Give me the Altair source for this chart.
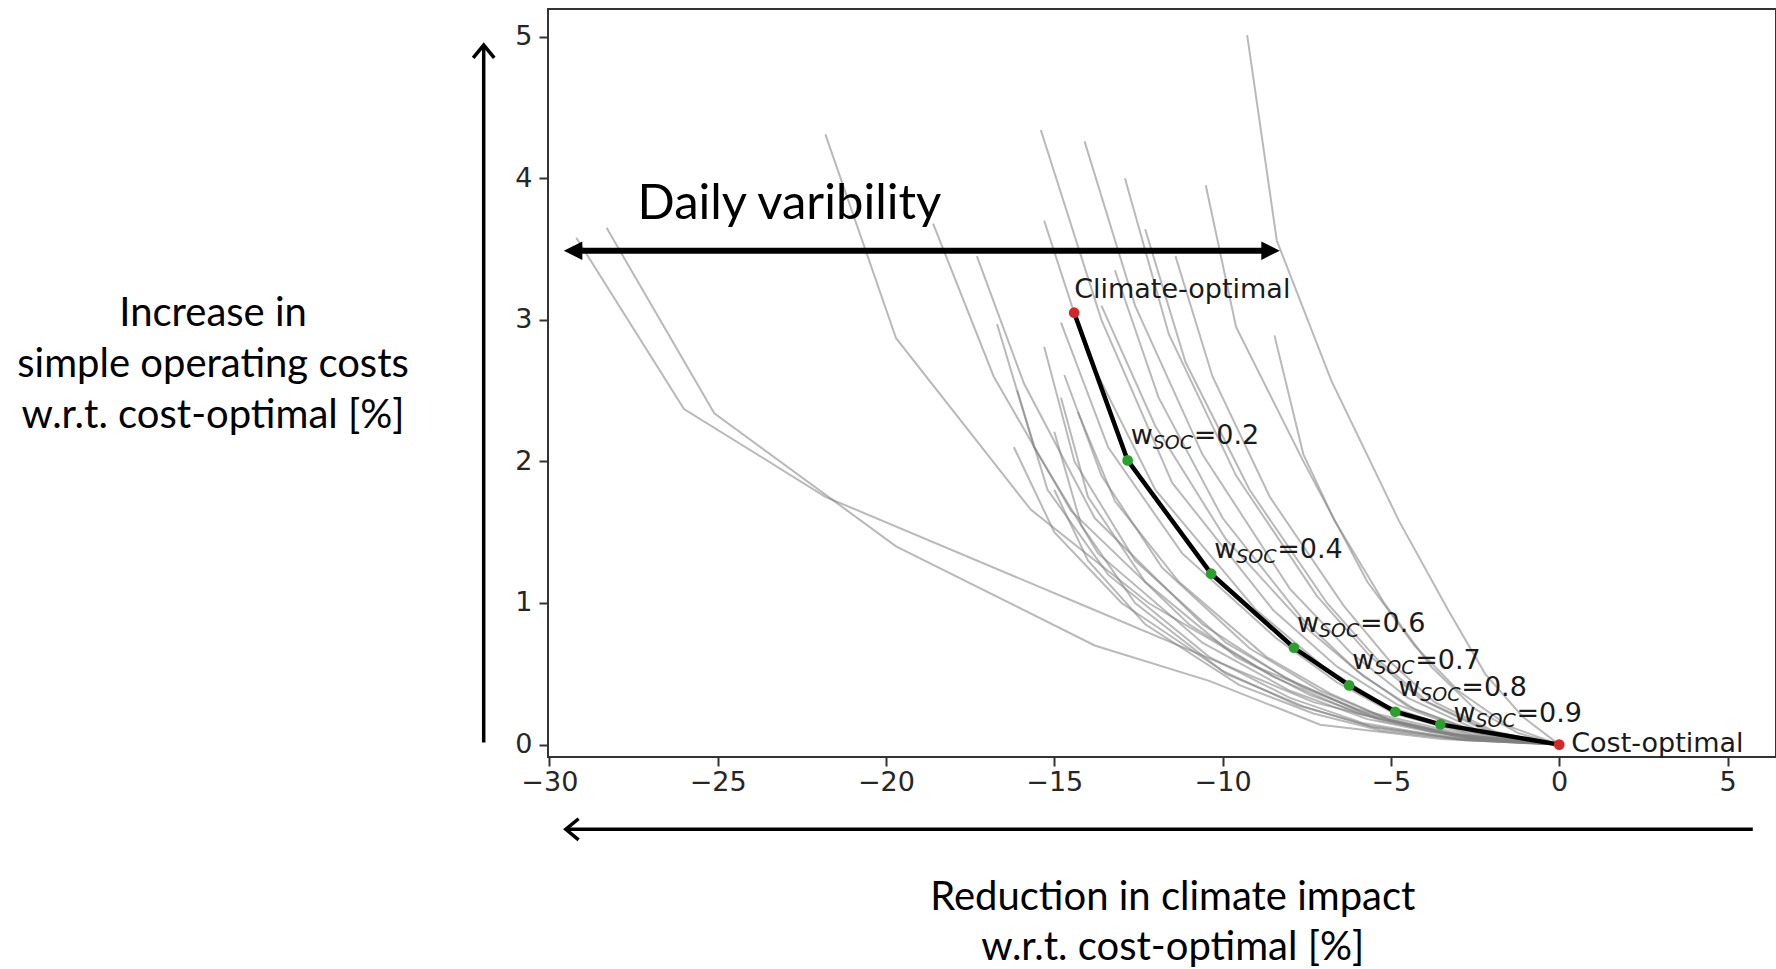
import altair as alt
import pandas as pd

# ---- grey daily Pareto fronts (one value per day at each weighting level) ----
climate_x = [-29.2, -28.3, -21.8, -15.4, -14.1, -12.9, -10.5, -9.27, -15.3, -18.6, -17.3, -16.7, -15.3, -14.8, -14.7, -16.1, -15.0, -15.0, -12.3, -8.46, -14.8, -13.6, -13.2, -11.4, -16.2, -14.3]
climate_y = [3.58, 3.65, 4.31, 4.34, 4.26, 4.00, 3.95, 5.01, 3.70, 3.68, 3.45, 2.97, 2.81, 2.45, 2.61, 2.50, 2.21, 1.80, 3.64, 2.89, 2.98, 3.10, 3.35, 3.45, 2.10, 2.35]
w02_x = [-26.0, -25.1, -19.7, -13.6, -12.6, -11.6, -9.6, -8.39, -14.0, -16.8, -15.9, -15.6, -14.4, -14.0, -13.6, -15.2, -14.2, -14.0, -11.1, -7.6, -13.4, -12.0, -11.9, -10.3, -15.0, -13.2]
w02_y = [2.37, 2.34, 2.87, 3.00, 3.10, 2.90, 2.95, 3.56, 2.75, 2.60, 2.55, 2.10, 2.00, 1.75, 1.90, 1.80, 1.55, 1.30, 2.70, 2.05, 2.10, 2.25, 2.45, 2.60, 1.50, 1.72]
w04_x = [-21.8, -19.7, -15.7, -11.5, -10.6, -9.6, -7.6, -6.77, -12.0, -14.5, -13.8, -13.7, -12.6, -12.3, -11.8, -13.4, -12.6, -12.3, -9.2, -6.67, -11.2, -9.9, -10.0, -8.6, -13.0, -11.3]
w04_y = [1.75, 1.40, 1.66, 1.85, 2.05, 1.90, 2.00, 2.57, 1.80, 1.65, 1.60, 1.35, 1.30, 1.15, 1.25, 1.20, 1.00, 0.85, 1.80, 1.58, 1.35, 1.45, 1.60, 1.75, 1.00, 1.15]
w06_x = [-14.0, -13.8, -12.2, -8.5, -8.0, -7.2, -5.7, -4.76, -9.0, -11.0, -10.6, -10.6, -9.9, -9.6, -9.2, -10.4, -9.9, -9.5, -6.9, -5.2, -8.4, -7.4, -7.6, -6.4, -10.0, -8.7]
w06_y = [0.97, 0.70, 1.00, 0.95, 1.10, 1.05, 1.15, 1.58, 0.95, 0.85, 0.85, 0.72, 0.72, 0.62, 0.68, 0.62, 0.50, 0.42, 1.00, 1.00, 0.75, 0.80, 0.88, 0.98, 0.52, 0.62]
w07_x = [-10.5, -10.4, -9.0, -6.6, -6.2, -5.6, -4.3, -3.3, -7.0, -8.5, -8.2, -8.0, -7.6, -7.4, -7.1, -8.0, -7.6, -7.3, -5.4, -3.8, -6.6, -5.8, -6.0, -5.0, -7.8, -6.8]
w07_y = [0.62, 0.45, 0.55, 0.55, 0.65, 0.62, 0.70, 0.95, 0.55, 0.48, 0.48, 0.38, 0.40, 0.35, 0.38, 0.33, 0.27, 0.22, 0.60, 0.55, 0.44, 0.48, 0.52, 0.58, 0.28, 0.36]
w08_x = [-7.3, -7.1, -6.0, -4.8, -4.5, -4.1, -3.0, -2.2, -5.2, -6.0, -5.9, -5.7, -5.4, -5.3, -5.1, -5.8, -5.5, -5.3, -3.9, -2.5, -4.9, -4.3, -4.5, -3.7, -5.6, -5.0]
w08_y = [0.30, 0.14, 0.25, 0.28, 0.33, 0.32, 0.38, 0.50, 0.28, 0.22, 0.23, 0.18, 0.19, 0.17, 0.18, 0.15, 0.12, 0.10, 0.30, 0.25, 0.22, 0.25, 0.27, 0.30, 0.13, 0.17]
w09_x = [-3.8, -3.5, -2.8, -2.6, -2.4, -2.2, -1.5, -1.1, -2.8, -3.2, -3.1, -3.0, -2.9, -2.8, -2.7, -3.0, -2.9, -2.8, -2.0, -1.2, -2.6, -2.3, -2.4, -1.9, -2.9, -2.6]
w09_y = [0.09, 0.04, 0.07, 0.09, 0.10, 0.10, 0.13, 0.20, 0.09, 0.07, 0.07, 0.05, 0.05, 0.05, 0.05, 0.04, 0.035, 0.03, 0.09, 0.08, 0.07, 0.08, 0.08, 0.09, 0.04, 0.05]
cost_x = [0.0] * len(climate_x)
cost_y = [0.0] * len(climate_x)

# ---- mean front (black) ----
mean_x = [-14.41, -12.82, -10.34, -7.88, -6.24, -4.87, -3.53, 0.0]
mean_y = [3.05, 2.007, 1.207, 0.684, 0.418, 0.232, 0.143, 0.0]
mean_kind = ["end", "w", "w", "w", "w", "w", "w", "end"]
mean_label = ["Climate-optimal", "=0.2", "=0.4", "=0.6", "=0.7", "=0.8", "=0.9", "Cost-optimal"]

# ---- axis ticks ----
x_ticks = [-30, -25, -20, -15, -10, -5, 0, 5]
y_ticks = [0, 1, 2, 3, 4, 5]

# ---- annotations (data units) ----
var_x = [-29.57, -8.30]
var_y = 3.488
var_text = "Daily varibility"
up_arrow_x = -31.95
up_arrow_y = [0.015, 4.94]
bottom_arrow_y = -0.598
bottom_arrow_x = [-29.51, 5.75]
left_title = "Increase in\nsimple operating costs\nw.r.t. cost-optimal [%]"
bottom_title = "Reduction in climate impact\nw.r.t. cost-optimal [%]"

W, H = 1228, 748
xs = alt.Scale(domain=[-30.04, 6.44], nice=False, zero=False)
ys = alt.Scale(domain=[-0.0876, 5.195], nice=False, zero=False)
x_axis = alt.Axis(values=x_ticks, title=None, grid=False, domain=False, tickSize=9, tickWidth=2,
                  tickColor="#333333", labelFont="DejaVu Sans", labelFontSize=27, labelColor="#262626",
                  labelPadding=3, labelFlush=False, labelOverlap=False)
y_axis = alt.Axis(values=y_ticks, title=None, grid=False, domain=False, tickSize=9, tickWidth=2,
                  tickColor="#333333", labelFont="DejaVu Sans", labelFontSize=27, labelColor="#262626",
                  labelPadding=7, labelOverlap=False)
X = alt.X("x:Q", scale=xs, axis=x_axis)
Y = alt.Y("y:Q", scale=ys, axis=y_axis)

levels = [(climate_x, climate_y), (w02_x, w02_y), (w04_x, w04_y), (w06_x, w06_y),
          (w07_x, w07_y), (w08_x, w08_y), (w09_x, w09_y), (cost_x, cost_y)]
rows = []
for d in range(len(climate_x)):
    for s, (lx, ly) in enumerate(levels):
        rows.append({"day": d, "step": s, "x": lx[d], "y": ly[d]})
days = pd.DataFrame(rows)

mean = pd.DataFrame({"x": mean_x, "y": mean_y, "kind": mean_kind, "label": mean_label,
                     "step": list(range(len(mean_x)))})
wpts = mean[mean.kind == "w"].iloc[:-1]
wlast = mean[mean.kind == "w"].iloc[[-1]]

grey = alt.Chart(days).mark_line(color="#808080", opacity=0.55, strokeWidth=2).encode(
    x=X, y=Y, detail="day:N", order="step:Q")
black = alt.Chart(mean).mark_line(color="black", strokeWidth=4.5).encode(x=X, y=Y, order="step:Q")
dots = alt.Chart(mean).mark_circle(size=115, opacity=1).encode(
    x=X, y=Y, color=alt.Color("kind:N", scale=alt.Scale(domain=["end", "w"], range=["#d62728", "#2ca02c"]), legend=None))

lab_font = "DejaVu Sans"
lab_col = "#1a1a1a"
climate_lab = alt.Chart(mean.iloc[[0]]).mark_text(align="left", baseline="alphabetic", dx=0, dy=-15,
    font=lab_font, fontSize=27, color=lab_col).encode(x=X, y=Y, text="label:N")
cost_lab = alt.Chart(mean.iloc[[-1]]).mark_text(align="left", baseline="middle", dx=12, dy=-1,
    font=lab_font, fontSize=27, color=lab_col).encode(x=X, y=Y, text="label:N")


def w_label(df, dx0, dy0):
    w = alt.Chart(df).mark_text(align="left", baseline="alphabetic", dx=dx0, dy=dy0,
        font=lab_font, fontSize=27, color=lab_col).encode(x=X, y=Y, text=alt.value("w"))
    s = alt.Chart(df).mark_text(align="left", baseline="alphabetic", dx=dx0 + 22, dy=dy0 + 5,
        font=lab_font, fontSize=19, fontStyle="italic", color=lab_col).encode(x=X, y=Y, text=alt.value("SOC"))
    v = alt.Chart(df).mark_text(align="left", baseline="alphabetic", dx=dx0 + 63, dy=dy0,
        font=lab_font, fontSize=27, color=lab_col).encode(x=X, y=Y, text="label:N")
    return [w, s, v]


labs = w_label(wpts, 3, -16) + w_label(wlast, 13, -2)

# daily variability double arrow
var_df = pd.DataFrame({"x": [var_x[0] + 0.4], "x2": [var_x[1] - 0.4], "y": [var_y]})
var_line = alt.Chart(var_df).mark_rule(color="black", strokeWidth=6).encode(x=X, x2="x2:Q", y=Y)
head_l = alt.Chart(pd.DataFrame({"x": [var_x[0]], "y": [var_y]})).mark_point(
    shape="M 0 0 L 1 -0.5 L 1 0.5 Z", size=1369, filled=True, color="black", opacity=1).encode(x=X, y=Y)
head_r = alt.Chart(pd.DataFrame({"x": [var_x[1]], "y": [var_y]})).mark_point(
    shape="M 0 0 L -1 -0.5 L -1 0.5 Z", size=1369, filled=True, color="black", opacity=1).encode(x=X, y=Y)
var_txt = alt.Chart(pd.DataFrame({"x": [-27.38], "y": [3.816], "t": [var_text]})).mark_text(
    align="left", baseline="middle", font="Lato", fontSize=49, color="black").encode(x=X, y=Y, text="t:N")

# up arrow (left)
up_df = pd.DataFrame({"x": [up_arrow_x], "y": [up_arrow_y[0]], "y2": [up_arrow_y[1]]})
up_line = alt.Chart(up_df).mark_rule(color="black", strokeWidth=3.5).encode(x=X, y=Y, y2="y2:Q")
up_head = alt.Chart(pd.DataFrame({"x": [up_arrow_x], "y": [up_arrow_y[1]]})).mark_point(
    shape="M -0.62 0.75 L 0 0 L 0.62 0.75", size=1156, filled=False, color="black", strokeWidth=3.5,
    opacity=1).encode(x=X, y=Y)

# bottom arrow
bot_df = pd.DataFrame({"x": [bottom_arrow_x[0]], "x2": [bottom_arrow_x[1]], "y": [bottom_arrow_y]})
bot_line = alt.Chart(bot_df).mark_rule(color="black", strokeWidth=3.5).encode(x=X, x2="x2:Q", y=Y)
bot_head = alt.Chart(pd.DataFrame({"x": [bottom_arrow_x[0]], "y": [bottom_arrow_y]})).mark_point(
    shape="M 0.75 -0.62 L 0 0 L 0.75 0.62", size=1156, filled=False, color="black", strokeWidth=3.5,
    opacity=1).encode(x=X, y=Y)

left_txt = alt.Chart(pd.DataFrame({"x": [-39.99], "y": [3.04], "t": [left_title]})).mark_text(
    align="center", baseline="middle", font="Lato", fontSize=40, lineHeight=51, lineBreak="\n",
    color="black").encode(x=X, y=Y, text="t:N")
bottom_txt = alt.Chart(pd.DataFrame({"x": [-11.48], "y": [-1.080], "t": [bottom_title]})).mark_text(
    align="center", baseline="middle", font="Lato", fontSize=40, lineHeight=50, lineBreak="\n",
    color="black").encode(x=X, y=Y, text="t:N")

chart = alt.layer(
    grey, black, dots, climate_lab, cost_lab, *labs,
    var_line, head_l, head_r, var_txt, up_line, up_head, bot_line, bot_head, left_txt, bottom_txt
).properties(
    width=W, height=H,
    autosize=alt.AutoSizeParams(type="none"),
    padding={"left": 548, "top": 9, "right": 0, "bottom": 212},
    background="white",
).configure_view(stroke="#333333", strokeWidth=2)

chart.save("out.html", embed_options={"renderer": "svg", "actions": False})
